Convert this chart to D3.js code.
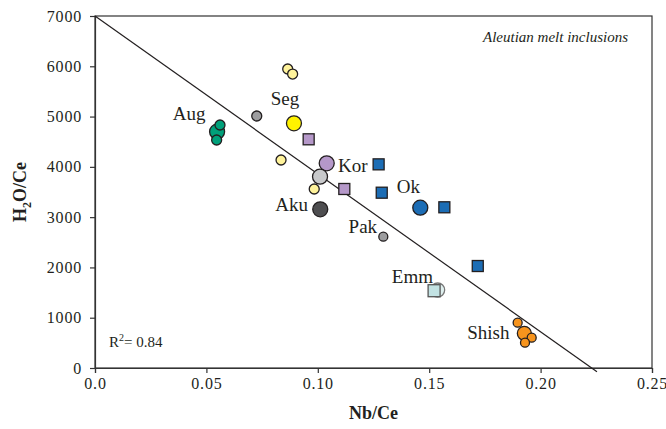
<!DOCTYPE html>
<html>
<head>
<meta charset="utf-8">
<script src="https://cdn.jsdelivr.net/npm/d3@7"></script>
<style>
  html, body { margin: 0; padding: 0; background: #fff; overflow: hidden; }
  svg { display: block; }
  svg text { font-family: "Liberation Serif", "Times New Roman", "DejaVu Serif", serif; fill: #231f20; }
</style>
</head>
<body>
<div class="myChart"></div>
<script>
//Data
var pointX = [0.0893, 0.104, 0.101, 0.1011, 0.146, 0.1538, 0.0548, 0.1927,
              0.0959, 0.1119, 0.1273, 0.1287, 0.1568, 0.1718, 0.1522,
              0.0561, 0.0546, 0.0726, 0.1294, 0.0865, 0.0887, 0.0835, 0.0984,
              0.1897, 0.196, 0.193];
var pointY = [4866, 4070, 3805, 3156, 3188, 1551, 4700, 690,
              4548, 3560, 4050, 3486, 3196, 2028, 1537,
              4832, 4534, 5011, 2611, 5946, 5846, 4136, 3560,
              901, 603, 503];
var pointKind = ["segBig", "korBig", "greyBig", "akuBig", "okBig", "emmBig", "augBig", "shishBig",
                 "korSq", "korSq", "okSq", "okSq", "okSq", "okSq", "emmSq",
                 "augSmall", "augSmall", "greySmall", "pakSmall", "yellowSmall", "yellowSmall", "yellowSmall", "yellowSmall",
                 "shishSmall", "shishSmall", "shishSmall"];

var labelNames = ["Aug", "Seg", "Kor", "Ok", "Aku", "Pak", "Emm", "Shish"];
var labelX = [0.0496, 0.0853, 0.1091, 0.1354, 0.0956, 0.1266, 0.1517, 0.186];
var labelY = [4932, 5224, 3904, 3486, 3128, 2685, 1696, 571];
var labelAnchor = ["end", "middle", "start", "start", "end", "end", "end", "end"];

var xTicks = [0, 0.05, 0.10, 0.15, 0.20, 0.25];
var xTickLabels = ["0.0", "0.05", "0.10", "0.15", "0.20", "0.25"];
var yTicks = [0, 1000, 2000, 3000, 4000, 5000, 6000, 7000];

//Regression line H2O/Ce = 7000 - 31400 Nb/Ce
var regX = [0, 0.2253];
var regIntercept = 7000;
var regSlope = -31400;

//Marker styles
var styles = {
    segBig:     {shape: "c", r: 7.5, fill: "#fff200"},
    korBig:     {shape: "c", r: 7.5, fill: "#b598c9"},
    greyBig:    {shape: "c", r: 7.5, fill: "#c8c9cb"},
    akuBig:     {shape: "c", r: 7.5, fill: "#4e4e50"},
    okBig:      {shape: "c", r: 7.5, fill: "#1c6db5"},
    emmBig:     {shape: "c", r: 7, fill: "#dff0ef", stroke: "#777"},
    augBig:     {shape: "c", r: 7.5, fill: "#00a07a"},
    shishBig:   {shape: "c", r: 7, fill: "#f7941d"},
    korSq:      {shape: "s", r: 5.5, fill: "#b598c9"},
    okSq:       {shape: "s", r: 5.5, fill: "#1c6db5"},
    emmSq:      {shape: "s", r: 6, fill: "#c2e2e3", stroke: "#555"},
    augSmall:   {shape: "c", r: 5, fill: "#00a07a"},
    greySmall:  {shape: "c", r: 5, fill: "#9d9d9f"},
    pakSmall:   {shape: "c", r: 4.5, fill: "#9d9d9f"},
    yellowSmall:{shape: "c", r: 5, fill: "#fff39b"},
    shishSmall: {shape: "c", r: 4.5, fill: "#f7941d"}
};

var serif = "Liberation Serif, Times New Roman, DejaVu Serif, serif";

//Canvas Size
var width = 666;
var height = 429;
var margin = {top: 16, right: 14, bottom: 61, left: 95};
var innerWidth = width - margin.left - margin.right;
var innerHeight = height - margin.top - margin.bottom;

var xScale = d3.scaleLinear().domain([0, 0.25]).range([0, innerWidth]);
var yScale = d3.scaleLinear().domain([0, 7000]).range([innerHeight, 0]);

var svg = d3.select(".myChart").append("svg")
    .attr("width", width)
    .attr("height", height)
    .attr("font-family", serif);

var g = svg.append("g")
    .attr("transform", "translate(" + margin.left + "," + margin.top + ")");

//Frame
g.append("rect")
    .attr("width", innerWidth)
    .attr("height", innerHeight)
    .attr("fill", "none")
    .attr("stroke", "#333")
    .attr("stroke-width", 1.2);

//Axes
var xAxis = d3.axisBottom(xScale).tickValues(xTicks)
    .tickFormat(function(d, i) {return xTickLabels[i];})
    .tickSizeOuter(0).tickSize(5).tickPadding(5);
var yAxis = d3.axisLeft(yScale).tickValues(yTicks)
    .tickFormat(d3.format("d"))
    .tickSizeOuter(0).tickSize(5).tickPadding(8);

var gx = g.append("g")
    .attr("transform", "translate(0," + innerHeight + ")")
    .call(xAxis);
var gy = g.append("g").call(yAxis);

[gx, gy].forEach(function(a) {
    a.attr("font-family", serif).attr("font-size", 16);
    a.select(".domain").attr("stroke", "#333").attr("stroke-width", 1.2);
    a.selectAll(".tick line").attr("stroke", "#333").attr("stroke-width", 1.2);
    a.selectAll(".tick text")
        .attr("font-family", serif)
        .style("font-size", "16px")
        .style("letter-spacing", "0.8px")
        .attr("fill", "#231f20");
});

//Regression line
g.append("line")
    .attr("x1", xScale(regX[0]))
    .attr("y1", yScale(regIntercept + regSlope * regX[0]))
    .attr("x2", xScale(regX[1]))
    .attr("y2", yScale(regIntercept + regSlope * regX[1]))
    .attr("stroke", "#231f20")
    .attr("stroke-width", 1.2);

//Points
var pts = d3.range(pointX.length);
g.selectAll(".pt")
    .data(pts)
    .enter()
    .each(function(i) {
        var s = styles[pointKind[i]];
        var cx = xScale(pointX[i]);
        var cy = yScale(pointY[i]);
        var el;
        if (s.shape === "c") {
            el = d3.select(this).append("circle")
                .attr("cx", cx).attr("cy", cy).attr("r", s.r);
        } else {
            el = d3.select(this).append("rect")
                .attr("x", cx - s.r).attr("y", cy - s.r)
                .attr("width", 2 * s.r).attr("height", 2 * s.r);
        }
        el.attr("fill", s.fill)
            .attr("stroke", s.stroke || "#231f20")
            .attr("stroke-width", 1.3);
    });

//Group labels
g.selectAll(".lab")
    .data(labelNames)
    .enter()
    .append("text")
    .attr("x", function(d, i) {return xScale(labelX[i]);})
    .attr("y", function(d, i) {return yScale(labelY[i]);})
    .attr("text-anchor", function(d, i) {return labelAnchor[i];})
    .style("font-size", "19px")
    .text(function(d) {return d;});

//Title in corner
g.append("text")
    .attr("x", innerWidth - 24)
    .attr("y", 26)
    .attr("text-anchor", "end")
    .style("font-size", "15px")
    .style("font-style", "italic")
    .text("Aleutian melt inclusions");

//R squared
var r2 = g.append("text")
    .attr("x", 14)
    .attr("y", innerHeight - 21)
    .style("font-size", "15px");
r2.append("tspan").text("R");
r2.append("tspan").attr("dy", -6).style("font-size", "10px").text("2");
r2.append("tspan").attr("dy", 6).text("= 0.84");

//Axis titles
svg.append("text")
    .attr("x", margin.left + innerWidth / 2)
    .attr("y", 419)
    .attr("text-anchor", "middle")
    .style("font-size", "18px")
    .style("font-weight", "bold")
    .text("Nb/Ce");

var yt = svg.append("text")
    .attr("transform", "translate(26," + (margin.top + innerHeight / 2) + ") rotate(-90)")
    .attr("text-anchor", "middle")
    .style("font-size", "18px")
    .style("font-weight", "bold");
yt.append("tspan").text("H");
yt.append("tspan").attr("dy", 5).style("font-size", "12px").text("2");
yt.append("tspan").attr("dy", -5).text("O/Ce");
</script>
</body>
</html>
